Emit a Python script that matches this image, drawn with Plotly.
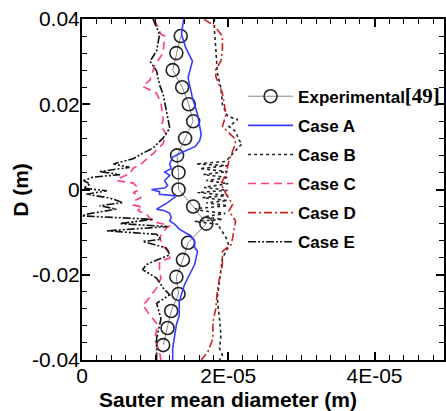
import plotly.graph_objects as go

# ---------------- data ----------------
exp_x = [13.5e-6, 12.9e-6, 12.4e-6, 13.7e-6, 14.6e-6, 15.2e-6, 14.1e-6, 13.0e-6, 13.2e-6, 13.2e-6,
         15.2e-6, 17.0e-6, 14.5e-6, 13.8e-6, 12.9e-6, 13.2e-6, 12.2e-6, 11.7e-6, 11.1e-6]
exp_y = [0.036, 0.032, 0.028, 0.024, 0.020, 0.016, 0.012, 0.008, 0.004, 0.0,
         -0.004, -0.008, -0.0125, -0.0165, -0.0205, -0.0245, -0.0285, -0.0325, -0.0365]

caseA_x = [13.9e-6, 13.6e-6, 14.2e-6, 15.1e-6, 14.5e-6, 15.1e-6, 15.8e-6, 16.3e-6, 16.1e-6, 15.5e-6,
           13.8e-6, 12.4e-6, 12.0e-6, 12.2e-6, 11.3e-6, 12.0e-6, 11.3e-6, 11.7e-6, 11.3e-6, 9.5e-6,
           10.6e-6, 10.6e-6, 12.9e-6, 12.2e-6, 11.7e-6, 10.6e-6, 10.2e-6, 11.3e-6, 12.0e-6, 12.2e-6,
           12.0e-6, 12.7e-6, 13.3e-6, 14.9e-6, 15.4e-6, 15.4e-6, 15.8e-6, 15.4e-6, 14.7e-6, 14.0e-6,
           13.3e-6, 13.3e-6, 12.9e-6, 12.7e-6, 12.4e-6, 12.4e-6]
caseA_y = [0.0400, 0.0364, 0.0332, 0.0301, 0.0262, 0.0215, 0.0176, 0.0129, 0.0115, 0.0101,
           0.0088, 0.0076, 0.0060, 0.0049, 0.0041, 0.0033, 0.0021, 0.0009, 0.00035, 0.0,
           -0.0005, -0.0011, -0.0015, -0.0024, -0.0031, -0.0042, -0.0046, -0.0050, -0.0056, -0.0066,
           -0.0074, -0.0082, -0.0093, -0.0109, -0.0121, -0.0136, -0.0145, -0.0176, -0.0200, -0.0224,
           -0.0263, -0.0295, -0.0318, -0.0342, -0.0373, -0.0400]

caseB_x = [18.1e-6, 18.1e-6, 18.3e-6, 18.5e-6, 19.0e-6, 19.2e-6, 19.9e-6, 21.3e-6, 20.1e-6, 21.0e-6,
           21.5e-6, 21.9e-6, 20.6e-6, 19.7e-6, 15.6e-6, 19.9e-6, 16.1e-6, 19.9e-6, 16.6e-6, 20.0e-6,
           17.0e-6, 20.0e-6, 16.7e-6, 19.9e-6, 15.8e-6, 20.0e-6, 16.5e-6, 19.9e-6, 17.0e-6, 19.9e-6,
           15.5e-6, 16.5e-6, 19.6e-6, 16.7e-6, 19.2e-6, 15.4e-6, 18.8e-6, 18.8e-6, 19.7e-6, 20.1e-6,
           19.2e-6, 19.0e-6, 18.8e-6, 18.5e-6, 18.8e-6, 19.0e-6, 18.8e-6, 19.2e-6, 18.8e-6]
caseB_y = [0.0400, 0.0376, 0.0329, 0.0274, 0.0238, 0.0199, 0.0172, 0.0164, 0.0148, 0.0136,
           0.0115, 0.0108, 0.0084, 0.0066, 0.0060, 0.0056, 0.0049, 0.0042, 0.0035, 0.0028,
           0.0021, 0.0014, 0.0005, -0.0002, -0.0007, -0.0014, -0.0019, -0.0026, -0.0031, -0.0038,
           -0.0045, -0.0050, -0.0056, -0.0064, -0.0070, -0.0075, -0.0082, -0.0089, -0.0113, -0.0132,
           -0.0161, -0.0192, -0.0224, -0.0255, -0.0303, -0.0342, -0.0373, -0.0388, -0.0400]

caseC_x = [9.9e-6, 10.8e-6, 11.3e-6, 11.1e-6, 9.9e-6, 9.3e-6, 8.3e-6, 10.2e-6, 10.8e-6, 11.1e-6,
           10.8e-6, 11.5e-6, 11.1e-6, 9.7e-6, 8.1e-6, 7.0e-6, 6.5e-6, 5.2e-6, 4.7e-6, 7.0e-6,
           7.6e-6, 7.7e-6, 7.0e-6, 8.1e-6, 7.2e-6, 7.0e-6, 8.3e-6, 7.6e-6, 8.8e-6, 9.7e-6,
           12.0e-6, 11.5e-6, 10.6e-6, 11.1e-6, 11.3e-6, 12.0e-6, 12.0e-6, 10.6e-6, 10.6e-6, 10.8e-6,
           10.2e-6, 8.8e-6, 8.3e-6, 9.3e-6, 10.4e-6, 9.9e-6, 10.6e-6, 10.8e-6]
caseC_y = [0.0399, 0.0364, 0.0360, 0.0321, 0.0289, 0.0257, 0.0242, 0.0226, 0.0202, 0.0163,
           0.0148, 0.0131, 0.0108, 0.0084, 0.0060, 0.0050, 0.0037, 0.0027, 0.0021, 0.0015,
           0.0005, -0.0002, -0.0007, -0.0019, -0.0026, -0.0036, -0.0042, -0.0049, -0.0058, -0.0075,
           -0.0085, -0.0091, -0.0113, -0.0129, -0.0137, -0.0146, -0.0161, -0.0169, -0.0192, -0.0208,
           -0.0231, -0.0263, -0.0271, -0.0295, -0.0318, -0.0350, -0.0381, -0.0400]

caseD_x = [16.7e-6, 18.1e-6, 19.2e-6, 19.2e-6, 19.0e-6, 18.3e-6, 18.3e-6, 19.2e-6, 19.5e-6, 19.7e-6,
           19.2e-6, 20.8e-6, 21.0e-6, 20.1e-6, 19.7e-6, 19.0e-6, 19.7e-6, 20.6e-6, 20.1e-6, 21.0e-6,
           20.6e-6, 20.4e-6, 19.2e-6, 19.2e-6, 18.8e-6, 18.5e-6, 18.3e-6, 17.9e-6, 17.9e-6, 17.2e-6,
           16.3e-6]
caseD_y = [0.0399, 0.0384, 0.0360, 0.0329, 0.0301, 0.0282, 0.0265, 0.0226, 0.0195, 0.0176,
           0.0148, 0.0121, 0.0108, 0.0068, 0.0037, 0.0013, -0.0011, -0.0035, -0.0050, -0.0074,
           -0.0113, -0.0129, -0.0145, -0.0176, -0.0208, -0.0239, -0.0279, -0.0311, -0.0350, -0.0381,
           -0.0400]

caseE_x = [9.7e-6, 10.6e-6, 10.2e-6, 9.3e-6, 10.2e-6, 10.6e-6, 11.1e-6, 11.5e-6, 12.0e-6, 11.1e-6,
           9.7e-6, 8.3e-6, 7.0e-6, 4.3e-6, 6.5e-6, 2.4e-6, 5.2e-6, 1.5e-6, 0.2e-6, 1.1e-6,
           0.2e-6, 3.4e-6, 0.6e-6, 3.8e-6, 5.6e-6, 2.4e-6, 4.7e-6, 0.6e-6, 0.0, 9.7e-6,
           5.2e-6, 11.7e-6, 3.4e-6, 10.2e-6, 10.8e-6, 8.3e-6, 11.5e-6, 12.0e-6, 8.8e-6, 8.3e-6,
           10.2e-6, 11.1e-6, 12.0e-6, 10.2e-6, 10.8e-6, 10.2e-6, 10.2e-6, 10.2e-6]
caseE_y = [0.0400, 0.0364, 0.0325, 0.0301, 0.0278, 0.0246, 0.0223, 0.0184, 0.0144, 0.0121,
           0.0097, 0.0085, 0.0072, 0.0060, 0.0052, 0.0042, 0.0035, 0.0029, 0.0021, 0.0013,
           0.0003, -0.0003, -0.0011, -0.0020, -0.0031, -0.0038, -0.0046, -0.0058, -0.0062, -0.0070,
           -0.0080, -0.0087, -0.0097, -0.0105, -0.0117, -0.0122, -0.0137, -0.0153, -0.0176, -0.0188,
           -0.0208, -0.0231, -0.0247, -0.0267, -0.0303, -0.0350, -0.0389, -0.0400]

x_tickvals = [0, 2e-5, 4e-5]
x_ticktext = ["0", "2E-05", "4E-05"]
y_tickvals = [0.04, 0.02, 0.0, -0.02, -0.04]
y_ticktext = ["0.04", "0.02", "0", "-0.02", "-0.04"]

# ---------------- figure ----------------
fig = go.Figure()
LW = 1.6

fig.add_trace(go.Scatter(
    x=exp_x, y=exp_y, mode="lines+markers",
    name='Experimental<span style="font-family:\'Liberation Serif\';font-size:21px">[49]</span>',
    line=dict(color="#888888", width=1),
    marker=dict(symbol="circle-open", size=13, color="#222222", line=dict(width=1.6, color="#222222")),
    legendgroup="g0"))
fig.add_trace(go.Scatter(x=caseA_x, y=caseA_y, mode="lines", name="Case A",
                         line=dict(color="#3b3bff", width=LW), legendgroup="g1"))
fig.add_trace(go.Scatter(x=caseB_x, y=caseB_y, mode="lines", name="Case B",
                         line=dict(color="#222222", width=LW, dash="dot"), legendgroup="g2"))
fig.add_trace(go.Scatter(x=caseC_x, y=caseC_y, mode="lines", name="Case C",
                         line=dict(color="#ff3d8e", width=LW, dash="8px,5px"), legendgroup="g3"))
fig.add_trace(go.Scatter(x=caseD_x, y=caseD_y, mode="lines", name="Case D",
                         line=dict(color="#cc2020", width=LW, dash="8px,3px,2px,3px"), legendgroup="g4"))
fig.add_trace(go.Scatter(x=caseE_x, y=caseE_y, mode="lines", name="Case E",
                         line=dict(color="#111111", width=LW, dash="8px,2px,2px,2px,2px,2px"),
                         legendgroup="g5"))

axis_font = dict(family="Liberation Sans, Arial", size=21, color="black")
title_font = dict(family="Liberation Sans, Arial", size=21, color="black")
fig.update_layout(
    width=446, height=411,
    margin=dict(l=82, r=0, t=19, b=51),
    paper_bgcolor="white", plot_bgcolor="white",
    font=dict(family="Liberation Sans, Arial", color="black"),
    showlegend=True,
    legend=dict(x=0.445, y=0.825, xanchor="left", yanchor="top",
                bgcolor="rgba(0,0,0,0)", borderwidth=0,
                font=dict(family="Liberation Sans, Arial", size=17, color="black", weight="bold"),
                tracegroupgap=4, itemwidth=45),
    xaxis=dict(range=[0, 4.95e-5], tickmode="array", tickvals=x_tickvals, ticktext=x_ticktext,
               ticks="inside", ticklen=8, tickwidth=1.5, tickcolor="black", ticklabelstandoff=-4,
               showline=True, linecolor="black", linewidth=2, mirror="ticks",
               showgrid=False, zeroline=False, tickfont=axis_font,
               minor=dict(ticks="inside", ticklen=5, tickwidth=1, tickcolor="black", dtick=2e-6, showgrid=False)),
    yaxis=dict(range=[-0.04, 0.04], tickmode="array", tickvals=y_tickvals, ticktext=y_ticktext,
               ticks="inside", ticklen=8, tickwidth=1.5, tickcolor="black", ticklabelstandoff=-4,
               showline=True, linecolor="black", linewidth=2, mirror="ticks",
               showgrid=False, zeroline=False, tickfont=axis_font,
               minor=dict(ticks="inside", ticklen=5, tickwidth=1, tickcolor="black", dtick=0.004, showgrid=False)),
    annotations=[
        dict(text="<b>Sauter mean diameter (m)</b>", xref="paper", yref="paper",
             x=(229 - 82) / 364, y=(360 - 400) / 341, xanchor="center", yanchor="middle",
             showarrow=False, font=title_font),
        dict(text="<b>D (m)</b>", xref="paper", yref="paper", textangle=-90,
             x=(20 - 82) / 364, y=0.5, xanchor="center", yanchor="middle",
             showarrow=False, font=title_font),
    ],
)

fig.write_html("out.html")
